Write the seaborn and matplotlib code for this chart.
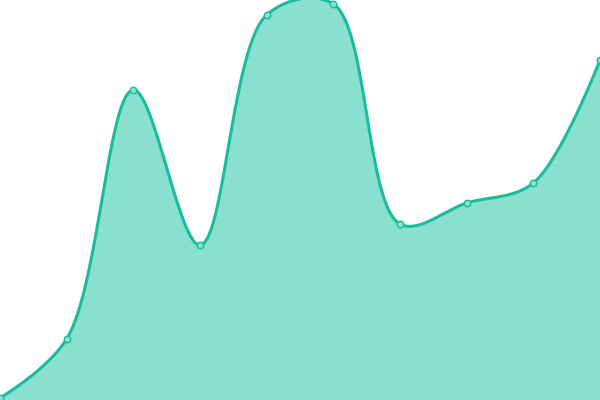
import numpy as np
import pandas as pd
import matplotlib
matplotlib.use("Agg")
import matplotlib.pyplot as plt
import seaborn as sns

# data
x_vals = [0, 1, 2, 3, 4, 5, 6, 7, 8, 9]
y_vals = [2, 61, 310, 155, 385, 396, 176, 197, 217, 340]

LINE = "#1abc9c"
FILL = "#89e0cf"
XSCALE = 600 / 9  # spline computed in screen-like units


def catmull_rom_centripetal(xs, ys, alpha=0.5, n=60):
    P = np.column_stack([np.asarray(xs, float) * XSCALE, np.asarray(ys, float)])
    N = len(P)
    out = [P[0]]
    t = np.linspace(0, 1, n + 1)[1:][:, None]
    for i in range(N - 1):
        p0 = P[i - 1] if i > 0 else None
        p1, p2 = P[i], P[i + 1]
        p3 = P[i + 2] if i + 2 < N else None
        l12 = np.linalg.norm(p2 - p1)
        l12a, l12_2a = l12 ** alpha, l12 ** (2 * alpha)
        c1 = p1.copy()
        if p0 is not None:
            l01 = np.linalg.norm(p1 - p0)
            l01a, l01_2a = l01 ** alpha, l01 ** (2 * alpha)
            a = 2 * l01_2a + 3 * l01a * l12a + l12_2a
            nn = 3 * l01a * (l01a + l12a)
            c1 = (p1 * a - p0 * l12_2a + p2 * l01_2a) / nn
        c2 = p2.copy()
        if p3 is not None:
            l23 = np.linalg.norm(p3 - p2)
            l23a, l23_2a = l23 ** alpha, l23 ** (2 * alpha)
            b = 2 * l23_2a + 3 * l23a * l12a + l12_2a
            m = 3 * l23a * (l23a + l12a)
            c2 = (p2 * b + p1 * l23_2a - p3 * l12_2a) / m
        seg = ((1 - t) ** 3) * p1 + 3 * ((1 - t) ** 2) * t * c1 + 3 * (1 - t) * t ** 2 * c2 + t ** 3 * p2
        out.extend(seg)
    out = np.array(out)
    return out[:, 0] / XSCALE, out[:, 1]


sx, sy = catmull_rom_centripetal(x_vals, y_vals)

sns.set_theme(style="white")
fig = plt.figure(figsize=(6, 4), dpi=100)
ax = fig.add_axes([0, 0, 1, 1])
ax.fill_between(sx, sy, 0, color=FILL, linewidth=0)
sns.lineplot(x=sx, y=sy, ax=ax, color=LINE, linewidth=2.2, sort=False)
sns.scatterplot(x=x_vals, y=y_vals, ax=ax, s=22, color=FILL, edgecolor=LINE, linewidth=1.0, zorder=5)
ax.set_xlim(0, 9)
ax.set_ylim(0, 400)
ax.axis("off")
fig.savefig("out.png", dpi=100)
